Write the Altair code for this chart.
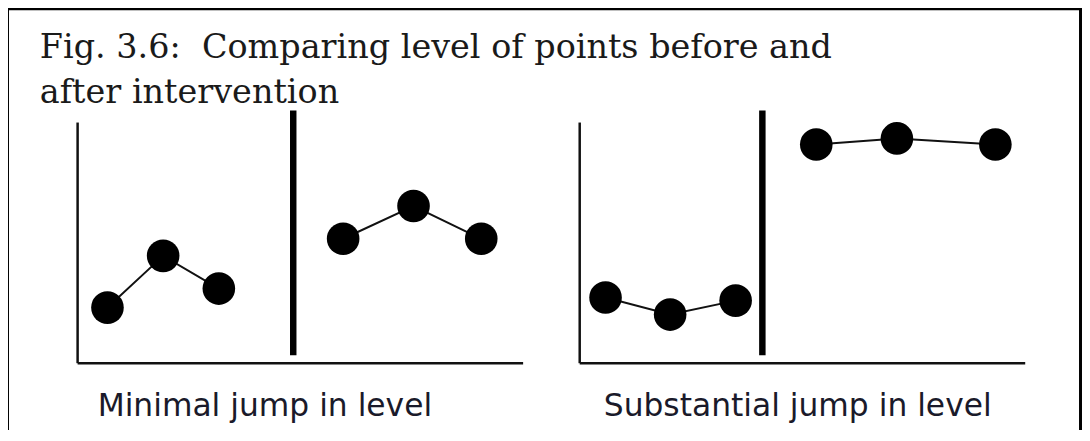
import altair as alt
import pandas as pd

# ---------------- data ----------------
TITLE_LINES = ["Fig. 3.6:\u00a0 Comparing level of points before and", "after intervention"]
PANELS = ["Minimal jump in level", "Substantial jump in level"]
PHASES = ["Baseline", "Baseline", "Baseline", "Intervention", "Intervention", "Intervention"]

# session position (panel time axis spans 0-10) and level (panel y axis spans 0-10)
minimal_time = [0.67, 1.92, 3.17, 5.96, 7.54, 9.06]
minimal_level = [2.31, 4.46, 3.10, 5.17, 6.53, 5.17]
substantial_time = [0.58, 2.03, 3.50, 5.31, 7.12, 9.33]
substantial_level = [2.73, 2.02, 2.60, 9.09, 9.34, 9.09]
phase_change_time = [4.84, 4.10]

# ---------------- layout ----------------
PANEL_OFFSET = [0.0, 11.27]
AXIS_LEN = 10
CAPTION_X = [0.45, 0.54]
CAPTION_Y = -2.19
PHASE_LINE = (0.33, 10.5)
W, H = 1080, 422
UNIT_X, UNIT_Y = 44.8, 24.2
ORIGIN_X, ORIGIN_Y = 70, 356  # plot-pixel position of panel origin

rows = []
for p, off, tt, lv in zip(PANELS, PANEL_OFFSET,
                          [minimal_time, substantial_time],
                          [minimal_level, substantial_level]):
    for t, l, ph in zip(tt, lv, PHASES):
        rows.append({"panel": p, "phase": ph, "series": p + ph, "x": t + off, "y": l})
pts = pd.DataFrame(rows)

frame = []
for p, off in zip(PANELS, PANEL_OFFSET):
    frame.append({"x": off, "x2": off, "y": 0, "y2": AXIS_LEN})
    frame.append({"x": off, "x2": off + AXIS_LEN, "y": 0, "y2": 0})
frame = pd.DataFrame(frame)

phase_df = pd.DataFrame({"x": [t + o for t, o in zip(phase_change_time, PANEL_OFFSET)],
                         "y": [PHASE_LINE[0]] * 2, "y2": [PHASE_LINE[1]] * 2})

cap_df = pd.DataFrame({"text": PANELS,
                       "x": [c + o for c, o in zip(CAPTION_X, PANEL_OFFSET)],
                       "y": [CAPTION_Y] * 2})

xs = alt.Scale(domain=[-ORIGIN_X / UNIT_X, (W - ORIGIN_X) / UNIT_X], nice=False, zero=False)
ys = alt.Scale(domain=[-(H - ORIGIN_Y) / UNIT_Y, ORIGIN_Y / UNIT_Y], nice=False, zero=False)
X = alt.X("x:Q", scale=xs, axis=None)
Y = alt.Y("y:Q", scale=ys, axis=None)

frame_layer = alt.Chart(frame).mark_rule(color="#111111", strokeWidth=2.5).encode(
    x=X, x2="x2:Q", y=Y, y2="y2:Q")

phase_layer = alt.Chart(phase_df).mark_rule(color="black", strokeWidth=6.5).encode(
    x=X, y=Y, y2="y2:Q")

line_layer = alt.Chart(pts).mark_line(color="#111111", strokeWidth=2).encode(
    x=X, y=Y, detail="series:N", order="x:Q")

dot_layer = alt.Chart(pts).mark_circle(color="black", size=1075, opacity=1).encode(
    x=X, y=Y)

cap_layer = alt.Chart(cap_df).mark_text(
    align="left", baseline="alphabetic", font="DejaVu Sans", fontSize=31.5,
    color="#1a1a2a").encode(x=X, y=Y, text="text:N")

one = pd.DataFrame({"k": [0]})
title1 = alt.Chart(one).mark_text(
    align="left", baseline="alphabetic", font="DejaVu Serif", fontSize=33.6,
    color="#1a1a1a").encode(x=alt.value(32), y=alt.value(49), text=alt.value(TITLE_LINES[0]))
title2 = alt.Chart(one).mark_text(
    align="left", baseline="alphabetic", font="DejaVu Serif", fontSize=33.6,
    color="#1a1a1a").encode(x=alt.value(32), y=alt.value(94), text=alt.value(TITLE_LINES[1]))

border_l = alt.Chart(one).mark_rule(color="black", strokeWidth=3).encode(
    x=alt.value(-0.5), y=alt.value(-2), y2=alt.value(H + 20))
border_r = alt.Chart(one).mark_rule(color="black", strokeWidth=3).encode(
    x=alt.value(W - 1.5), y=alt.value(-2), y2=alt.value(H + 20))
border_t = alt.Chart(one).mark_rule(color="black", strokeWidth=3).encode(
    x=alt.value(-2), x2=alt.value(W), y=alt.value(-0.5))

chart = alt.layer(
    border_l, border_r, border_t, frame_layer, phase_layer, line_layer, dot_layer,
    cap_layer, title1, title2
).properties(
    width=W, height=H, padding=0, autosize=alt.AutoSizeParams(type="none")
).configure_view(stroke=None)

chart.save("out.html", embed_options={"renderer": "svg", "actions": False})
